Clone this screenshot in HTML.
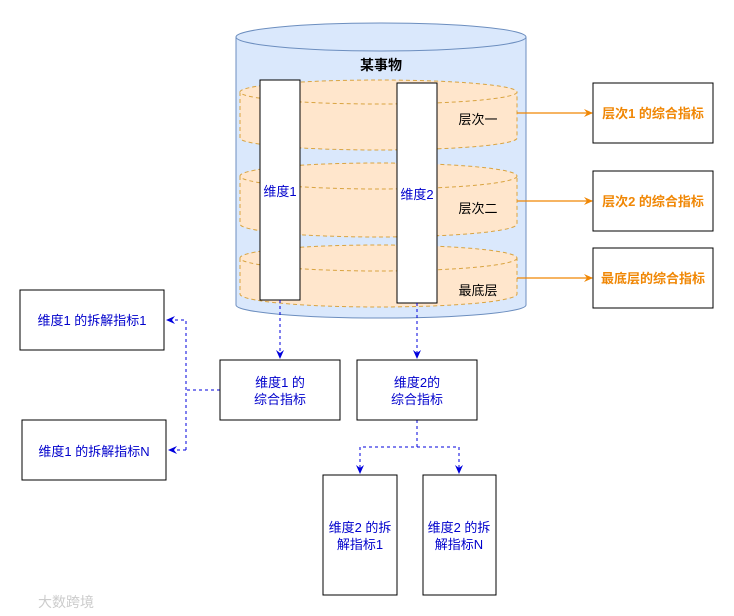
<!DOCTYPE html>
<html><head><meta charset="utf-8"><style>
html,body{margin:0;padding:0;background:#fff;width:734px;height:616px;overflow:hidden}
text{font-family:"Liberation Sans","Noto Sans CJK SC",sans-serif;font-size:13px}
</style></head><body>
<svg width="734" height="616" viewBox="0 0 734 616" xmlns="http://www.w3.org/2000/svg">
<defs>
<marker id="bo" markerWidth="10" markerHeight="10" refX="8" refY="5" orient="auto" markerUnits="userSpaceOnUse"><path d="M0,1 L9,5 L0,9 L3,5 Z" fill="#f08705"/></marker>
<marker id="bb" markerWidth="10" markerHeight="10" refX="8" refY="5" orient="auto" markerUnits="userSpaceOnUse"><path d="M0,1 L9,5 L0,9 L3,5 Z" fill="#0000dd"/></marker>
</defs>
<path d="M236,37 L236,305 A145,13 0 0 0 526,305 L526,37" fill="#dae8fc" stroke="#6c8ebf"/>
<ellipse cx="381" cy="37" rx="145" ry="14" fill="#dae8fc" stroke="#6c8ebf"/>
<text x="381" y="70" text-anchor="middle" font-weight="bold" style="font-size:14px">某事物</text>
<g fill="#ffe6cc" stroke="#d9a441" stroke-dasharray="4,3">
<path d="M240,92 L240,138 A138.5,12 0 0 0 517,138 L517,92"/>
<ellipse cx="378.5" cy="92" rx="138.5" ry="12"/>
<path d="M240,176 L240,224 A138.5,13 0 0 0 517,224 L517,176"/>
<ellipse cx="378.5" cy="176" rx="138.5" ry="13"/>
<path d="M240,258 L240,294 A138.5,13 0 0 0 517,294 L517,258"/>
<ellipse cx="378.5" cy="258" rx="138.5" ry="13"/>
</g>
<text x="478" y="124" text-anchor="middle">层次一</text>
<text x="478" y="213" text-anchor="middle">层次二</text>
<text x="478" y="295" text-anchor="middle">最底层</text>
<rect x="260" y="80" width="40" height="220" fill="#fff" stroke="#000"/>
<text x="280" y="196" text-anchor="middle" fill="#0000cc">维度1</text>
<rect x="397" y="83" width="40" height="220" fill="#fff" stroke="#000"/>
<text x="417" y="199" text-anchor="middle" fill="#0000cc">维度2</text>
<g stroke="#f08705" stroke-width="1.2" fill="none">
<line x1="517" y1="113" x2="592" y2="113" marker-end="url(#bo)"/>
<line x1="517" y1="201" x2="592" y2="201" marker-end="url(#bo)"/>
<line x1="517" y1="278" x2="592" y2="278" marker-end="url(#bo)"/>
</g>
<g fill="#fff" stroke="#000">
<rect x="593" y="83" width="120" height="60"/>
<rect x="593" y="171" width="120" height="60"/>
<rect x="593" y="248" width="120" height="60"/>
</g>
<g fill="#f08705" text-anchor="middle" font-weight="bold">
<text x="653" y="118">层次1 的综合指标</text>
<text x="653" y="206">层次2 的综合指标</text>
<text x="653" y="283">最底层的综合指标</text>
</g>
<g stroke="#0000dd" stroke-dasharray="3,3" fill="none">
<line x1="280" y1="300" x2="280" y2="358" marker-end="url(#bb)"/>
<line x1="417" y1="303" x2="417" y2="358" marker-end="url(#bb)"/>
<path d="M220,390 L186,390"/>
<path d="M186,450 L186,320 L167,320" marker-end="url(#bb)"/>
<path d="M186,450 L169,450" marker-end="url(#bb)"/>
<path d="M417,420 L417,447 L360,447 L360,473" marker-end="url(#bb)"/>
<path d="M417,447 L459,447 L459,473" marker-end="url(#bb)"/>
</g>
<g fill="#fff" stroke="#000">
<rect x="220" y="360" width="120" height="60"/>
<rect x="357" y="360" width="120" height="60"/>
<rect x="20" y="290" width="144" height="60"/>
<rect x="22" y="420" width="144" height="60"/>
<rect x="323" y="475" width="74" height="120"/>
<rect x="423" y="475" width="73" height="120"/>
</g>
<g fill="#0000cc" text-anchor="middle">
<text x="280" y="387">维度1 的</text>
<text x="280" y="404">综合指标</text>
<text x="417" y="387">维度2的</text>
<text x="417" y="404">综合指标</text>
<text x="92" y="325">维度1 的拆解指标1</text>
<text x="94" y="456">维度1 的拆解指标N</text>
<text x="360" y="532">维度2 的拆</text>
<text x="360" y="549">解指标1</text>
<text x="459" y="532">维度2 的拆</text>
<text x="459" y="549">解指标N</text>
</g>
<text x="38" y="607" fill="#ccc" style="font-size:14px">大数跨境</text>
</svg>
</body></html>
